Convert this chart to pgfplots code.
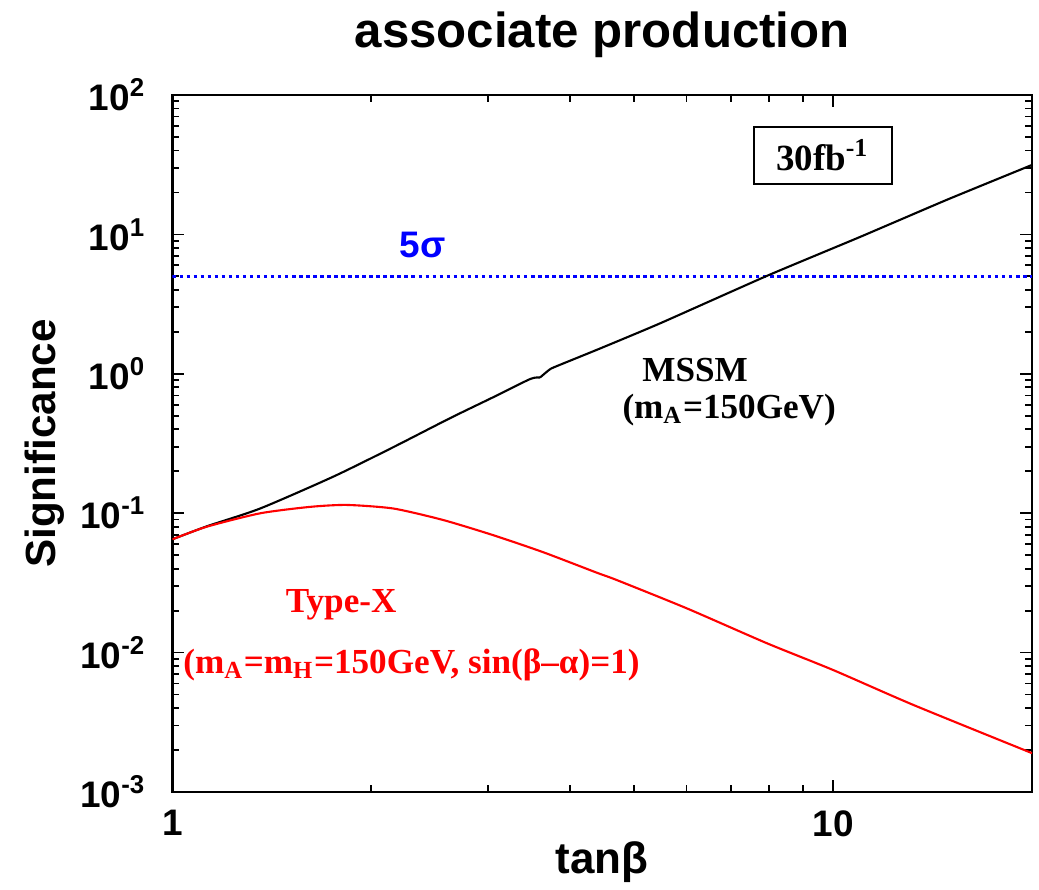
\documentclass[border=0pt]{standalone}
\usepackage{fontspec}
\setmainfont{Liberation Serif}
\newfontfamily\hv{Liberation Sans}
\usepackage{pgfplots}
\pgfplotsset{compat=1.18}

\begin{document}
\begin{tikzpicture}
\begin{axis}[
    scale only axis,
    width=85.95mm, height=69.7mm,
    xmode=log, ymode=log,
    xmin=1, xmax=20, ymin=1e-3, ymax=1e2,
    axis line style={line width=0.7pt},
    tick style={black, line width=0.5pt},
    tick align=inside,
    major tick length=1.2mm, minor tick length=0.7mm,
    xtick={1,10}, xticklabels={1,10},
    minor xtick={2,3,4,5,6,7,8,9},
    ytick={1e-3,1e-2,1e-1,1,10,100},
    yticklabels={10\textsuperscript{-3},10\textsuperscript{-2},10\textsuperscript{-1},10\textsuperscript{0},10\textsuperscript{1},10\textsuperscript{2}},
    minor ytick={2e-3,3e-3,4e-3,5e-3,6e-3,7e-3,8e-3,9e-3,
                 2e-2,3e-2,4e-2,5e-2,6e-2,7e-2,8e-2,9e-2,
                 0.2,0.3,0.4,0.5,0.6,0.7,0.8,0.9,
                 2,3,4,5,6,7,8,9,
                 20,30,40,50,60,70,80,90},
    ticklabel style={font=\hv\bfseries\fontsize{10.5}{12}\selectfont},
    xticklabel style={yshift=-0.6mm},
    yticklabel style={xshift=-1.4mm},
]
% 5 sigma line
\addplot[blue, densely dotted, line width=1pt] coordinates {(1,5) (20,5)};

% MSSM (two pieces: small step near tan beta = 3.6)
\addplot[black, line width=0.6pt, smooth, tension=0.4] coordinates {
(1,0.065) (1.127,0.0805) (1.357,0.108) (1.752,0.183) (2.16,0.298)
(2.63,0.48) (3.06,0.68) (3.48,0.918) (3.60,0.94)};
\addplot[black, line width=0.6pt, smooth, tension=0.3] coordinates {
(3.60,0.94) (3.73,1.08)
(3.86,1.16) (4.44,1.52) (5.47,2.30) (7.94,5.04) (10.99,9.6)
(14.86,17.7) (20,31.5)};

% Type-X
\addplot[red, line width=0.6pt, smooth, tension=0.4] coordinates {
(1,0.065) (1.127,0.080) (1.357,0.0998) (1.615,0.111) (1.835,0.1146)
(2.16,0.108) (2.57,0.0893) (3.06,0.0695) (3.64,0.0525) (4.39,0.0374)
(4.70,0.0332) (6.00,0.0208) (7.94,0.01167) (10,0.0075) (13.23,0.00421)
(20,0.0019)};

\node[blue, font=\hv\bfseries\fontsize{10.5}{12}\selectfont] at (axis cs:2.39,8.4) {5σ};
\node[draw, line width=0.6pt, minimum width=13.8mm, minimum height=5.7mm,
      font=\bfseries\fontsize{10.5}{12}\selectfont] at (axis cs:9.64,36.9) {30fb\textsuperscript{-1}};
\node[font=\bfseries\fontsize{10}{12}\selectfont] at (axis cs:6.18,1.06) {MSSM};
\node[font=\bfseries\fontsize{10}{12}\selectfont] at (axis cs:6.96,0.55) {(m\textsubscript{A}=150GeV)};
\node[red, font=\bfseries\fontsize{10}{12}\selectfont] at (axis cs:1.80,0.0219) {Type-X};
\node[red, font=\bfseries\fontsize{10}{12}\selectfont] at (axis cs:2.30,0.00815) {(m\textsubscript{A}=m\textsubscript{H}=150GeV, sin(β–α)=1)};
\end{axis}

\node[font=\hv\bfseries\fontsize{14}{17}\selectfont] at ([yshift=6mm]current axis.north) {associate production};
\node[font=\hv\bfseries\fontsize{12.5}{15}\selectfont] at ([yshift=-7mm]current axis.south) {tanβ};
\node[rotate=90, font=\hv\bfseries\fontsize{12}{14}\selectfont] at ([xshift=-12.75mm]current axis.west) {Significance};

\pgfresetboundingbox
\path[use as bounding box] ([xshift=-17.25mm,yshift=-9.8mm]current axis.south west)
    rectangle ([xshift=0.7mm,yshift=9.5mm]current axis.north east);
\end{tikzpicture}
\end{document}
